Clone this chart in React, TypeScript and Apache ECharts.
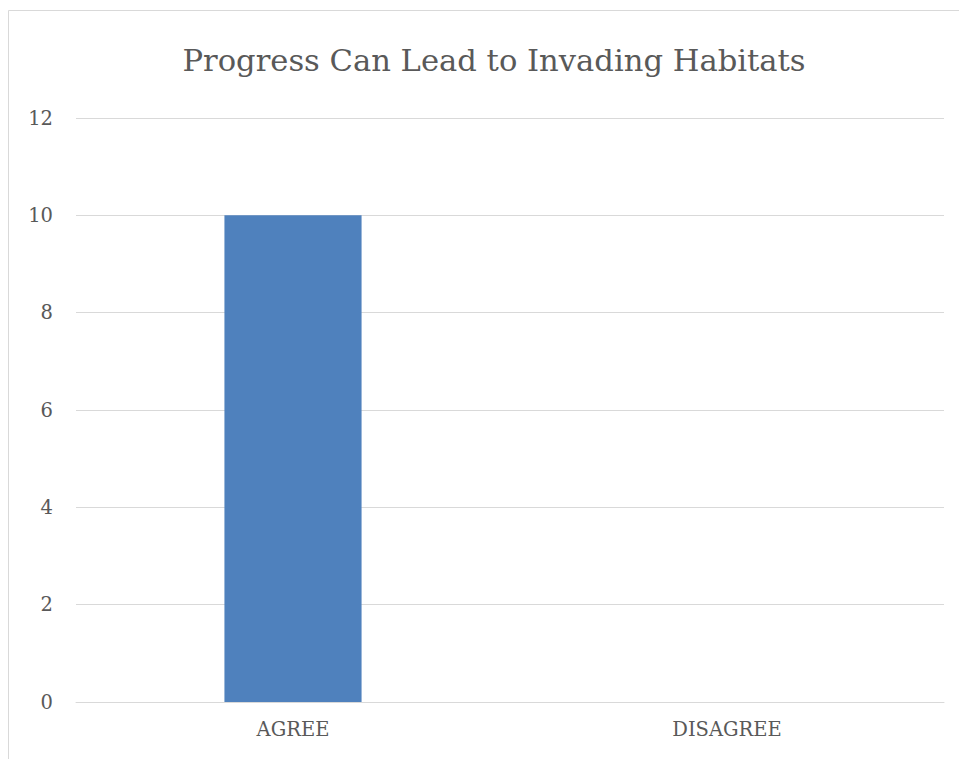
import React, { useEffect, useRef } from "react";
import * as echarts from "echarts";

const categories = ["AGREE", "DISAGREE"];
const responses = [10, 0];
const yTicks = { min: 0, max: 12, interval: 2 };

const FONT = "'DejaVu Serif', serif";
const TEXT = "#595959";

export default function App() {
  const ref = useRef<HTMLDivElement>(null);
  useEffect(() => {
    if (!ref.current) return;
    const chart = echarts.init(ref.current, undefined, { renderer: "svg" });
    chart.setOption({
      animation: false,
      backgroundColor: "#ffffff",
      title: {
        text: "Progress Can Lead to Invading Habitats",
        left: 481,
        textAlign: "center",
        top: 32,
        textStyle: { fontFamily: FONT, fontSize: 30.6, fontWeight: "normal", color: TEXT },
      },
      graphic: [
        {
          type: "rect",
          shape: { x: 0.5, y: 2.5, width: 1200, height: 1000 },
          style: { fill: "none", stroke: "#d9d9d9", lineWidth: 1 },
          silent: true,
        },
      ],
      grid: { left: 68, right: 23, top: 110, bottom: 57, containLabel: false },
      xAxis: {
        type: "category",
        data: categories,
        axisLine: { show: true, lineStyle: { color: "#d9d9d9", width: 1 } },
        axisTick: { show: false },
        axisLabel: { fontFamily: FONT, fontSize: 19.5, color: TEXT, margin: 17 },
      },
      yAxis: {
        type: "value",
        min: yTicks.min,
        max: yTicks.max,
        interval: yTicks.interval,
        axisLine: { show: false },
        axisTick: { show: false },
        axisLabel: { fontFamily: FONT, fontSize: 19.5, color: TEXT, margin: 23 },
        splitLine: { lineStyle: { color: "#d9d9d9", width: 1 } },
      },
      series: [
        {
          type: "bar",
          data: responses,
          barWidth: "31.6%",
          itemStyle: { color: "#4f81bd" },
        },
      ],
    });
    return () => chart.dispose();
  }, []);
  return <div ref={ref} style={{ width: 959, height: 751 }} />;
}
